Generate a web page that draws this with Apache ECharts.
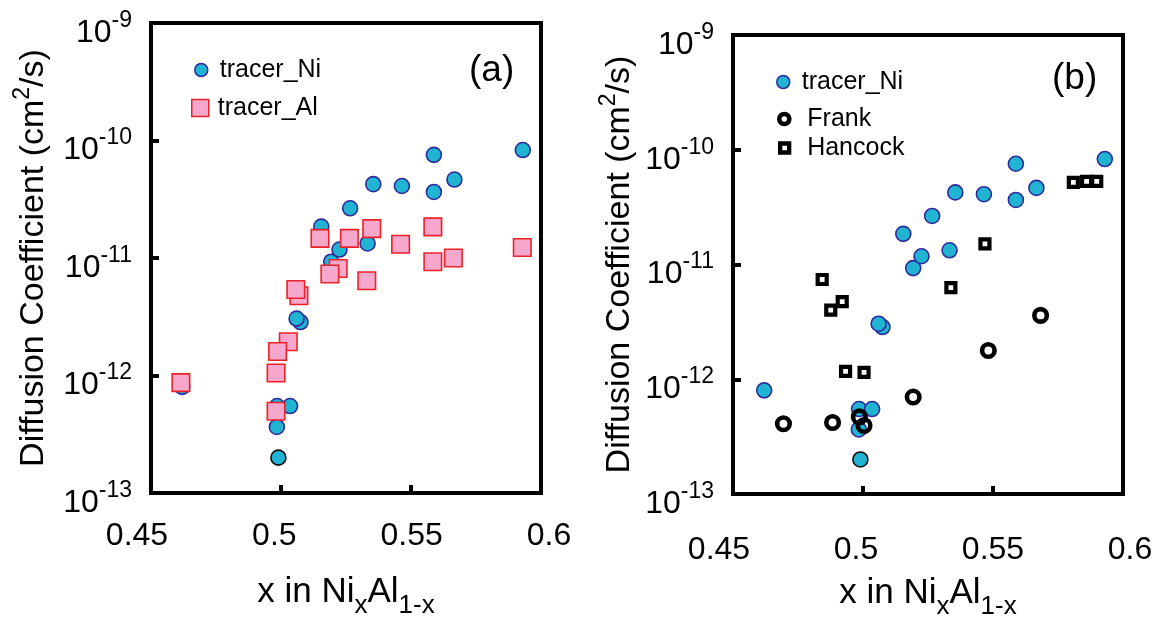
<!DOCTYPE html>
<html>
<head>
<meta charset="utf-8">
<script src="https://cdn.jsdelivr.net/npm/echarts/dist/echarts.min.js"></script>
<style>
  html, body { margin: 0; padding: 0; background: #ffffff; }
  #chart { width: 1167px; height: 625px; }
</style>
</head>
<body>
<div id="chart"></div>
<script>
// Axis ranges and tick values
const xTicks = [0.45, 0.5, 0.55, 0.6];
const yRange = [1e-13, 1e-9];

// Tracer diffusion of Ni in NixAl1-x (cm^2/s)
const niX = [0.462, 0.4985, 0.5035, 0.4984, 0.499, 0.5075, 0.506, 0.5155, 0.5193,
             0.5225, 0.5266, 0.5333, 0.5355, 0.5465, 0.5588, 0.5588, 0.5667, 0.593];
const niD = [8.0e-13, 5.5e-13, 5.5e-13, 3.65e-13, 2.0e-13, 2.85e-12, 3.05e-12, 1.85e-11, 9.3e-12,
             1.18e-11, 2.65e-11, 1.33e-11, 4.25e-11, 4.1e-11, 7.55e-11, 3.65e-11, 4.65e-11, 8.3e-11];

// Tracer diffusion of Al
const alX = [0.4615, 0.4981, 0.4981, 0.5028, 0.4987, 0.5069, 0.5057, 0.515, 0.5263,
             0.5349, 0.522, 0.5188, 0.533, 0.546, 0.5584, 0.5584, 0.5663, 0.5928];
const alD = [8.7e-13, 4.97e-13, 1.05e-12, 1.94e-12, 1.6e-12, 4.77e-12, 5.4e-12, 1.47e-11, 1.47e-11,
             1.78e-11, 8.15e-12, 7.3e-12, 6.4e-12, 1.31e-11, 1.84e-11, 9.3e-12, 1.0e-11, 1.23e-11];

// Frank et al.
const frankX = [0.4694, 0.4883, 0.4986, 0.5004, 0.5193, 0.5482, 0.5683];
const frankD = [4.1e-13, 4.2e-13, 4.7e-13, 3.95e-13, 7.0e-13, 1.78e-12, 3.6e-12];

// Hancock
const hancockX = [0.4843, 0.4876, 0.492, 0.4933, 0.5004, 0.5338, 0.5469, 0.5809, 0.586, 0.5899];
const hancockD = [7.4e-12, 4.0e-12, 4.75e-12, 1.17e-12, 1.15e-12, 6.3e-12, 1.51e-11, 5.2e-11, 5.3e-11, 5.3e-11];

const FONT = 'Liberation Sans, Arial, Helvetica, sans-serif';
const NI_FILL = '#20b4d2', NI_EDGE = '#2e2a9c';
const AL_FILL = '#f5a8cb', AL_EDGE = '#ec2228';
const DARK_EDGE_INDEX = 4;   // the lowest Ni point is drawn with a black rim

const pairs = (xs, ys) => xs.map((x, i) => [x, ys[i]]);
const niData = niX.map((x, i) => i === DARK_EDGE_INDEX
  ? { value: [x, niD[i]], itemStyle: { borderColor: '#111111' } }
  : { value: [x, niD[i]] });

const supRich = {
  b: { fontSize: 32, fontFamily: FONT, color: '#000', lineHeight: 32, padding: [10, 0, 0, 0], verticalAlign: 'top' },
  s: { fontSize: 23, fontFamily: FONT, color: '#000', lineHeight: 23, padding: [2, 0, 0, 0], verticalAlign: 'top' }
};
const yLabelFmt = v => '{b|10}{s|' + Math.round(Math.log10(v)) + '}';

const xName = '{t|x in Ni}{s|x}{t|Al}{s|1-x}';
const xNameRich = {
  t: { fontSize: 35, fontFamily: FONT, color: '#000', lineHeight: 36, verticalAlign: 'top' },
  s: { fontSize: 26, fontFamily: FONT, color: '#000', lineHeight: 26, padding: [18, 0, 0, 0], verticalAlign: 'top' }
};
const yName = '{t|Diffusion Coefficient (cm}{s|2}{t|/s)}';
const yNameRich = {
  t: { fontSize: 34, fontFamily: FONT, color: '#000', lineHeight: 36, padding: [6, 0, 0, 0], verticalAlign: 'top' },
  s: { fontSize: 23, fontFamily: FONT, color: '#000', lineHeight: 23, verticalAlign: 'top' }
};

const tickStyle = { show: true, inside: true, length: 8, lineStyle: { color: '#000', width: 4 } };

// Plot axes: ticks, frame and titles
function xAxisFor(grid) {
  return {
    gridIndex: grid, type: 'value', min: xTicks[0], max: xTicks[xTicks.length - 1], interval: 0.05,
    axisLine: { show: false }, axisTick: tickStyle, splitLine: { show: false },
    axisLabel: { show: false },
    name: xName, nameLocation: 'middle', nameGap: 82,
    nameTextStyle: { rich: xNameRich }
  };
}
// Tick-label rows, set a little wider than the plot frame
function xLabelAxisFor(grid) {
  return {
    gridIndex: grid, type: 'value', min: xTicks[0], max: xTicks[xTicks.length - 1], interval: 0.05,
    axisLine: { show: false }, axisTick: { show: false }, splitLine: { show: false },
    axisLabel: { fontSize: 32, fontFamily: FONT, color: '#000', margin: 27,
                 formatter: v => String(+v.toFixed(2)) }
  };
}
function yAxisFor(grid, gap) {
  return {
    gridIndex: grid, type: 'log', logBase: 10, min: yRange[0], max: yRange[1],
    axisLine: { show: false }, axisTick: tickStyle,
    splitLine: { show: false }, minorTick: { show: false },
    axisLabel: { margin: 19, formatter: yLabelFmt, rich: supRich },
    name: yName, nameLocation: 'middle', nameRotate: 90, nameGap: gap,
    nameTextStyle: { rich: yNameRich }
  };
}
function hiddenY(grid) {
  return { gridIndex: grid, type: 'value', show: false };
}

function legendItem(name, left, top, size, border, pad) {
  return {
    data: [name], left: left, top: top, orient: 'vertical',
    itemWidth: size, itemHeight: size, selectedMode: false,
    itemStyle: { borderWidth: border },
    textStyle: { fontSize: 25, fontFamily: FONT, color: '#000', lineHeight: 30, padding: [0, 0, 0, pad] }
  };
}

const option = {
  animation: false,
  backgroundColor: '#ffffff',
  grid: [
    { left: 151, top: 23, width: 390, height: 470, show: true, borderColor: '#000', borderWidth: 4 },
    { left: 733, top: 35, width: 390, height: 472, show: true, borderColor: '#000', borderWidth: 4 },
    { left: 137, top: 23, width: 412, height: 470 },
    { left: 719, top: 35, width: 411, height: 472 }
  ],
  xAxis: [xAxisFor(0), xAxisFor(1), xLabelAxisFor(2), xLabelAxisFor(3)],
  yAxis: [yAxisFor(0, 104), yAxisFor(1, 100), hiddenY(2), hiddenY(3)],
  legend: [
    legendItem('tracer_Ni', 189, 50, 13, 1.5, 7),
    legendItem('tracer_Al', 186, 88, 17, 1.5, 4),
    legendItem('tracer_Ni', 771, 62, 13, 1.5, 7),
    legendItem('Frank', 772, 99, 10, 4.6, 13),
    legendItem('Hancock', 773, 128, 9, 4.3, 13)
  ],
  graphic: [
    { type: 'text', left: 469, top: 52, style: { text: '(a)', fontSize: 37, fontFamily: FONT, fill: '#000' } },
    { type: 'text', left: 1052, top: 60, style: { text: '(b)', fontSize: 37, fontFamily: FONT, fill: '#000' } }
  ],
  series: [
    { name: 'tracer_Ni', type: 'scatter', xAxisIndex: 0, yAxisIndex: 0, z: 2,
      symbol: 'circle', symbolSize: 15, data: niData,
      itemStyle: { color: NI_FILL, borderColor: NI_EDGE, borderWidth: 1.6, opacity: 1 } },
    { name: 'tracer_Al', type: 'scatter', xAxisIndex: 0, yAxisIndex: 0, z: 3,
      symbol: 'rect', symbolSize: 17.5, data: pairs(alX, alD),
      itemStyle: { color: AL_FILL, borderColor: AL_EDGE, borderWidth: 1.6, opacity: 1 } },
    { name: 'tracer_Ni', type: 'scatter', xAxisIndex: 1, yAxisIndex: 1, z: 2,
      symbol: 'circle', symbolSize: 15, data: niData,
      itemStyle: { color: NI_FILL, borderColor: NI_EDGE, borderWidth: 1.6, opacity: 1 } },
    { name: 'Frank', type: 'scatter', xAxisIndex: 1, yAxisIndex: 1, z: 3,
      symbol: 'circle', symbolSize: 12.5, data: pairs(frankX, frankD),
      itemStyle: { color: 'rgba(0,0,0,0)', borderColor: '#000', borderWidth: 4.6, opacity: 1 } },
    { name: 'Hancock', type: 'scatter', xAxisIndex: 1, yAxisIndex: 1, z: 3,
      symbol: 'rect', symbolSize: 9, data: pairs(hancockX, hancockD),
      itemStyle: { color: 'rgba(0,0,0,0)', borderColor: '#000', borderWidth: 4.2, opacity: 1 } }
  ]
};

const chart = echarts.init(document.getElementById('chart'), null, { renderer: 'canvas' });
chart.setOption(option);
</script>
</body>
</html>
